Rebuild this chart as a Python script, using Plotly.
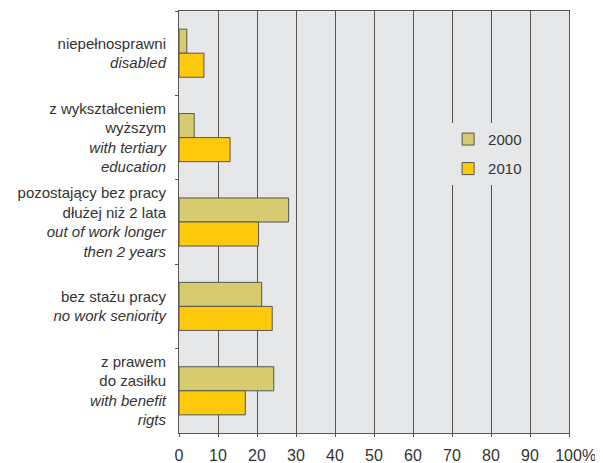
import plotly.graph_objects as go

# Category labels (Polish / English italic), top to bottom
categories = [
    "niepełnosprawni<br><i>disabled</i>",
    "z wykształceniem<br>wyższym<br><i>with tertiary</i><br><i>education</i>",
    "pozostający bez pracy<br>dłużej niż 2 lata<br><i>out of work longer</i><br><i>then 2 years</i>",
    "bez stażu pracy<br><i>no work seniority</i>",
    "z prawem<br>do zasiłku<br><i>with benefit</i><br><i>rigts</i>",
]
values_2000 = [2.0, 3.9, 28.1, 21.2, 24.3]
values_2010 = [6.4, 13.1, 20.4, 23.9, 17.0]

tick_vals = [0, 10, 20, 30, 40, 50, 60, 70, 80, 90, 100]
tick_text = ["0", "10", "20", "30", "40", "50", "60", "70", "80", "90", "\u00a0\u00a0\u00a0100%"]

COLORS = {
    '2000': '#D7CB6F',
    '2010': '#FFC90B',
    'outline': '#555555',
    'plot_bg': '#E6E7E9',
    'grid': '#555555',
    'text': '#333333',
}

fig = go.Figure()

fig.add_trace(go.Bar(
    y=categories, x=values_2000, name="2000", orientation='h',
    marker=dict(color=COLORS['2000'], line=dict(color=COLORS['outline'], width=1)),
    legendgroup="a",
))
fig.add_trace(go.Bar(
    y=categories, x=values_2010, name="2010", orientation='h',
    marker=dict(color=COLORS['2010'], line=dict(color=COLORS['outline'], width=1)),
    legendgroup="b",
))

# the page body has an 8px default margin, so the figure is sized/offset to compensate
fig.update_layout(
    width=595, height=455,
    margin=dict(l=171, r=34, t=3, b=30),
    paper_bgcolor='white',
    plot_bgcolor=COLORS['plot_bg'],
    font=dict(family='Liberation Sans, Arial, sans-serif', size=15, color=COLORS['text']),
    barmode='group',
    bargap=0.43,
    bargroupgap=0,
    legend=dict(
        x=0.69, y=0.735, xanchor='left', yanchor='top',
        bgcolor=COLORS['plot_bg'],
        tracegroupgap=7,
        font=dict(size=15),
    ),
    showlegend=True,
)

fig.update_xaxes(
    range=[0, 100],
    tickvals=tick_vals, ticktext=tick_text,
    tickfont=dict(size=16),
    showgrid=True, gridcolor=COLORS['grid'], gridwidth=1,
    zeroline=False,
    showline=True, linecolor=COLORS['grid'], linewidth=1, mirror=True,
    ticks='outside', ticklen=3, tickcolor=COLORS['grid'],
    ticklabelstandoff=5,
    automargin=False,
    fixedrange=True,
)
fig.update_yaxes(
    autorange='reversed',
    tickson='boundaries',
    showgrid=False,
    showline=True, linecolor=COLORS['grid'], linewidth=1, mirror=True,
    ticks='outside', ticklen=3, tickcolor=COLORS['grid'],
    ticklabelstandoff=9,
    automargin=False,
    fixedrange=True,
)

fig.write_html("out.html")
